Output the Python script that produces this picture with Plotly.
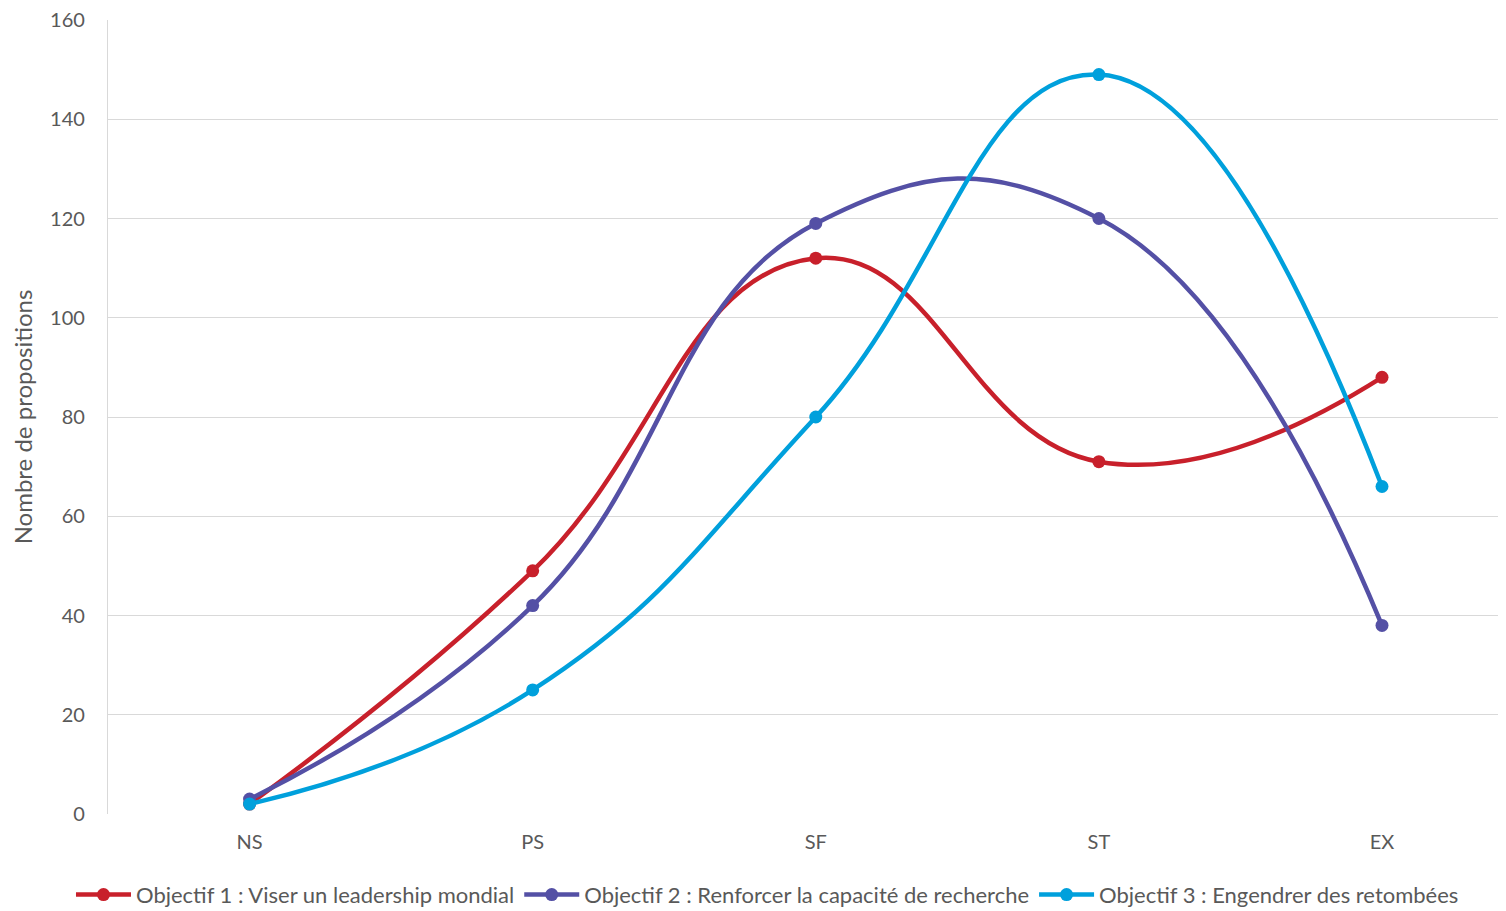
import plotly.graph_objects as go

categories = ["NS", "PS", "SF", "ST", "EX"]
obj1 = [2, 49, 112, 71, 88]
obj2 = [3, 42, 119, 120, 38]
obj3 = [2, 25, 80, 149, 66]
names = [
    "Objectif 1 : Viser un leadership mondial",
    "Objectif 2 : Renforcer la capacité de recherche",
    "Objectif 3 : Engendrer des retombées",
]
colors = ["#C8202B", "#5450A5", "#00A0DC"]
yticks = [0, 20, 40, 60, 80, 100, 120, 140, 160]

FONT = "Lato"
fig = go.Figure()
for vals, name, col in zip([obj1, obj2, obj3], names, colors):
    fig.add_trace(go.Scatter(
        x=list(range(len(categories))), y=vals, name=name,
        mode="lines+markers",
        line=dict(color=col, width=4.5, shape="spline", smoothing=1.3),
        marker=dict(color=col, size=13),
    ))

fig.update_layout(
    width=1498, height=903,
    margin=dict(l=100, r=0, t=12, b=97),
    paper_bgcolor="white", plot_bgcolor="white",
    font=dict(family=FONT, size=20, color="#595959"),
    showlegend=True,
    legend=dict(orientation="h", xref="container", yref="container",
                x=0.507, xanchor="center", y=0.018, yanchor="middle",
                font=dict(size=22, color="#595959"), itemwidth=55, tracegroupgap=0),
    xaxis=dict(
        range=[-0.5, 4.438], tickmode="array",
        tickvals=list(range(len(categories))), ticktext=categories,
        showgrid=False, zeroline=False, showline=False, ticks="",
        ticklabelstandoff=14, automargin=False,
    ),
    yaxis=dict(
        range=[0, 160], tickvals=yticks, showgrid=True, gridcolor="#D9D9D9", gridwidth=1.3,
        zeroline=False, showline=True, linecolor="#D9D9D9", linewidth=1.3, ticks="",
        ticklabelstandoff=18, ticklabeloverflow="allow", automargin=False,
        title=dict(text="Nombre de propositions", font=dict(size=24, color="#595959"), standoff=19),
    ),
)
fig.write_html("out.html")
